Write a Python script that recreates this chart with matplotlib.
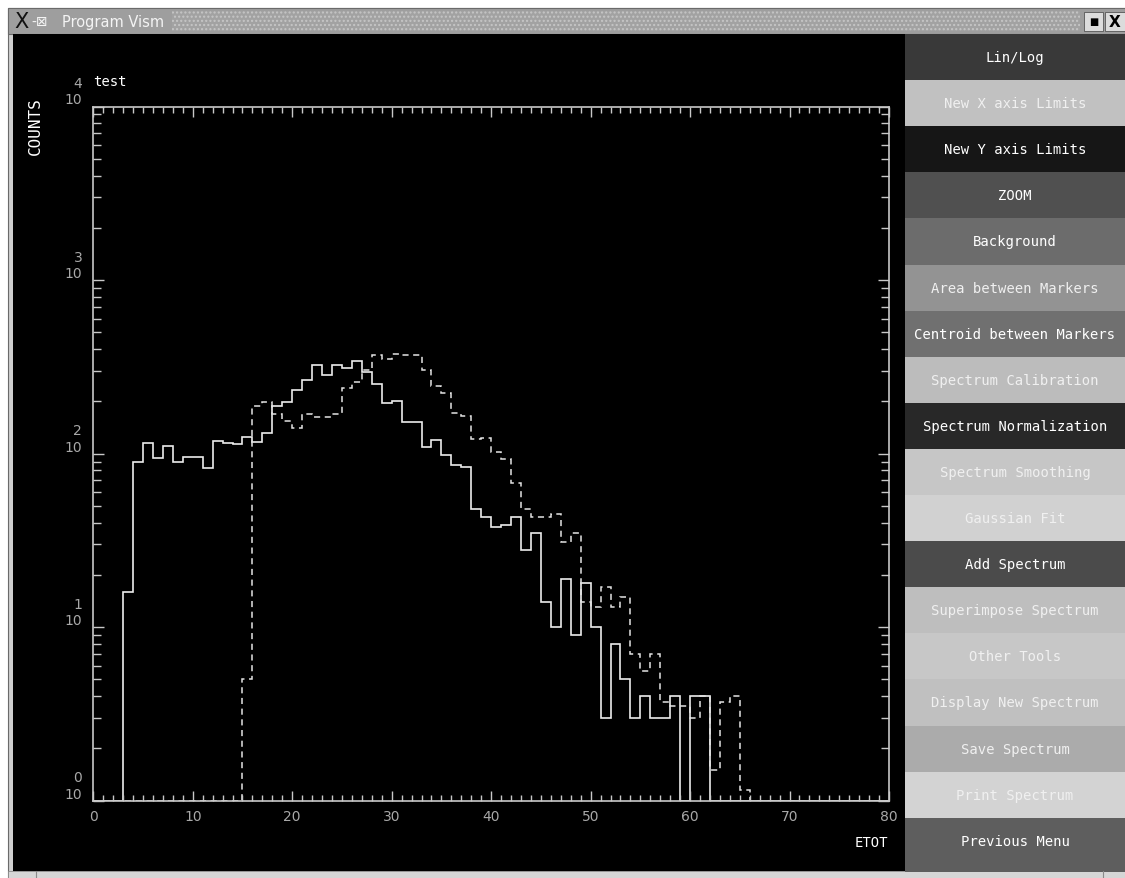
import numpy as np
import matplotlib
matplotlib.use("Agg")
import matplotlib.pyplot as plt
from matplotlib.patches import Rectangle
from matplotlib.ticker import MultipleLocator, LogLocator, NullFormatter

# spectrum data: bins of width 1 on ETOT from 0 to 80
n_bins = 80
solid_start = 3
solid_values = [16, 90, 115, 94, 110, 90, 96, 96, 83, 118,
                115, 113, 124, 117, 131, 187, 199, 233, 266, 322,
                282, 322, 311, 340, 295, 253, 195, 202, 153, 153,
                109, 120, 98, 86, 84, 48, 43, 38, 39, 43,
                28, 35, 14, 10, 19, 9, 18, 10, 3, 8,
                5, 3, 4, 3, 3, 4, 0, 4, 4]
dashed_start = 15
dashed_values = [5, 187, 199, 170, 155, 140, 170, 163, 163, 168,
                 238, 258, 304, 371, 352, 377, 368, 368, 304, 244,
                 222, 171, 165, 122, 123, 102, 93, 68, 48, 43,
                 43, 45, 31, 35, 14, 13, 17, 13, 15, 7,
                 5.6, 7, 3.7, 3.5, 3.5, 3, 4, 1.5, 3.7, 4, 1.15]

decades = [0, 1, 2, 3, 4]
x_ticks = [0, 10, 20, 30, 40, 50, 60, 70, 80]
stats_lines = ["Bin Width =    1.00", "Area  =0.605300E+04", "< X > =0.238407E+02"]

button_labels = ["Lin/Log", "New X axis Limits", "New Y axis Limits", "ZOOM", "Background",
                 "Area between Markers", "Centroid between Markers", "Spectrum Calibration",
                 "Spectrum Normalization", "Spectrum Smoothing", "Gaussian Fit", "Add Spectrum",
                 "Superimpose Spectrum", "Other Tools", "Display New Spectrum", "Save Spectrum",
                 "Print Spectrum", "Previous Menu"]
button_colors = ["#393939", "#c1c1c1", "#161616", "#505050", "#6c6c6c", "#939393",
                 "#707070", "#bcbcbc", "#282828", "#c6c6c6", "#d1d1d1", "#4b4b4b",
                 "#bebebe", "#c7c7c7", "#c0c0c0", "#ababab", "#d3d3d3", "#5e5e5e"]

edges = np.arange(n_bins + 1)
solid = np.zeros(n_bins)
solid[solid_start:solid_start + len(solid_values)] = solid_values
dashed = np.zeros(n_bins)
dashed[dashed_start:dashed_start + len(dashed_values)] = dashed_values

W, H = 1125, 879
fig = plt.figure(figsize=(W / 100, H / 100), dpi=100, facecolor="white")

# window chrome drawn in pixel coordinates
bg = fig.add_axes([0, 0, 1, 1])
bg.set_xlim(0, W)
bg.set_ylim(H, 0)
bg.axis("off")

bg.add_patch(Rectangle((8, 9), W - 8, H - 9, facecolor="#cfcfcf", edgecolor="#6a6a6a", lw=0.8))
bg.add_patch(Rectangle((8, 9), W - 8, 26, facecolor="#9e9e9e", edgecolor="#6a6a6a", lw=0.8))
bg.add_patch(Rectangle((172, 12), 908, 20, facecolor="#a2a2a2", edgecolor="#c6c6c6",
                       hatch="....", lw=0))
bg.add_patch(Rectangle((1084, 13), 19, 19, facecolor="#dcdcdc", edgecolor="#555555", lw=0.6))
bg.add_patch(Rectangle((1105, 13), 20, 19, facecolor="#dcdcdc", edgecolor="#555555", lw=0.6))
bg.text(1093.5, 22.5, "\u25a0", ha="center", va="center", fontsize=7, color="black")
bg.text(1115, 22.5, "X", ha="center", va="center", fontsize=11, fontweight="bold", color="black")
bg.text(14, 22, "X", ha="left", va="center", fontsize=15, color="#111111")
bg.text(31, 22, "-\u22a0", ha="left", va="center", fontsize=10, color="#f4f4f4")
bg.text(62, 22, "Program Vism", ha="left", va="center", fontsize=10.5, color="#f4f4f4")

bg.add_patch(Rectangle((13, 35), 892, 837, facecolor="black", edgecolor="none"))
bg.add_patch(Rectangle((8, 872), W - 8, 7, facecolor="#d6d6d6", edgecolor="#8a8a8a", lw=0.6))
bg.plot([36, 36], [872, 879], color="#8a8a8a", lw=0.8)
bg.plot([1103, 1103], [872, 879], color="#8a8a8a", lw=0.8)

# menu buttons
btn_top, btn_h = 35, 46.1
for i, (label, col) in enumerate(zip(button_labels, button_colors)):
    y0 = btn_top + i * btn_h
    h = btn_h if i < len(button_labels) - 1 else 873 - y0
    bg.add_patch(Rectangle((905, y0), W - 905, h, facecolor=col, edgecolor="none"))
    light = int(col[1:3], 16) > 0x90
    bg.text(1015, y0 + btn_h / 2, label, ha="center", va="center", fontsize=10,
            family="DejaVu Sans Mono", color="#f0f0f0" if light else "white")

mono = dict(family="DejaVu Sans Mono", color="white")
bg.text(93, 82, "test", ha="left", va="center", fontsize=10, **mono)
bg.text(35, 126, "COUNTS", ha="center", va="center", rotation=90, fontsize=11.5, **mono)
bg.text(888, 843, "ETOT", ha="right", va="center", fontsize=10, **mono)
bg.text(688, 167, "\n".join(stats_lines), ha="left", va="center", fontsize=10, **mono)

# spectrum axes
ax = fig.add_axes([93.3 / W, 1 - 801.7 / H, (889 - 93.3) / W, (801.7 - 107.5) / H])
ax.set_facecolor("black")
ax.set_yscale("log")
ax.set_xlim(0, 80)
ax.set_ylim(1, 1e4)

ax.stairs(np.maximum(solid, 1), edges, baseline=None, color="#ececec", lw=1.2)
ax.stairs(np.maximum(dashed, 1), edges, baseline=None, color="#e4e4e4", lw=1.1,
          linestyle=(0, (4, 3)))

ax.set_xticks(x_ticks)
ax.xaxis.set_minor_locator(MultipleLocator(1))
ax.set_yticks([10.0 ** k for k in decades], labels=[f"{k}\n10" for k in decades])
ax.yaxis.set_minor_locator(LogLocator(base=10, subs=np.arange(2, 10), numticks=20))
ax.yaxis.set_minor_formatter(NullFormatter())
for lbl in ax.get_yticklabels():
    lbl.set_verticalalignment("bottom")
    lbl.set_multialignment("right")

ax.tick_params(which="both", direction="in", top=True, right=True, color="#c8c8c8", width=1)
ax.tick_params(axis="x", which="major", length=7, pad=6, labelcolor="#a8a8a8", labelsize=10)
ax.tick_params(axis="x", which="minor", length=4)
ax.tick_params(axis="y", which="major", length=8, pad=8, labelcolor="#a8a8a8", labelsize=10)
ax.tick_params(axis="y", which="minor", length=6)
for sp in ax.spines.values():
    sp.set_color("#c8c8c8")
    sp.set_linewidth(1.2)

fig.savefig("out.png", dpi=100, facecolor="white")
